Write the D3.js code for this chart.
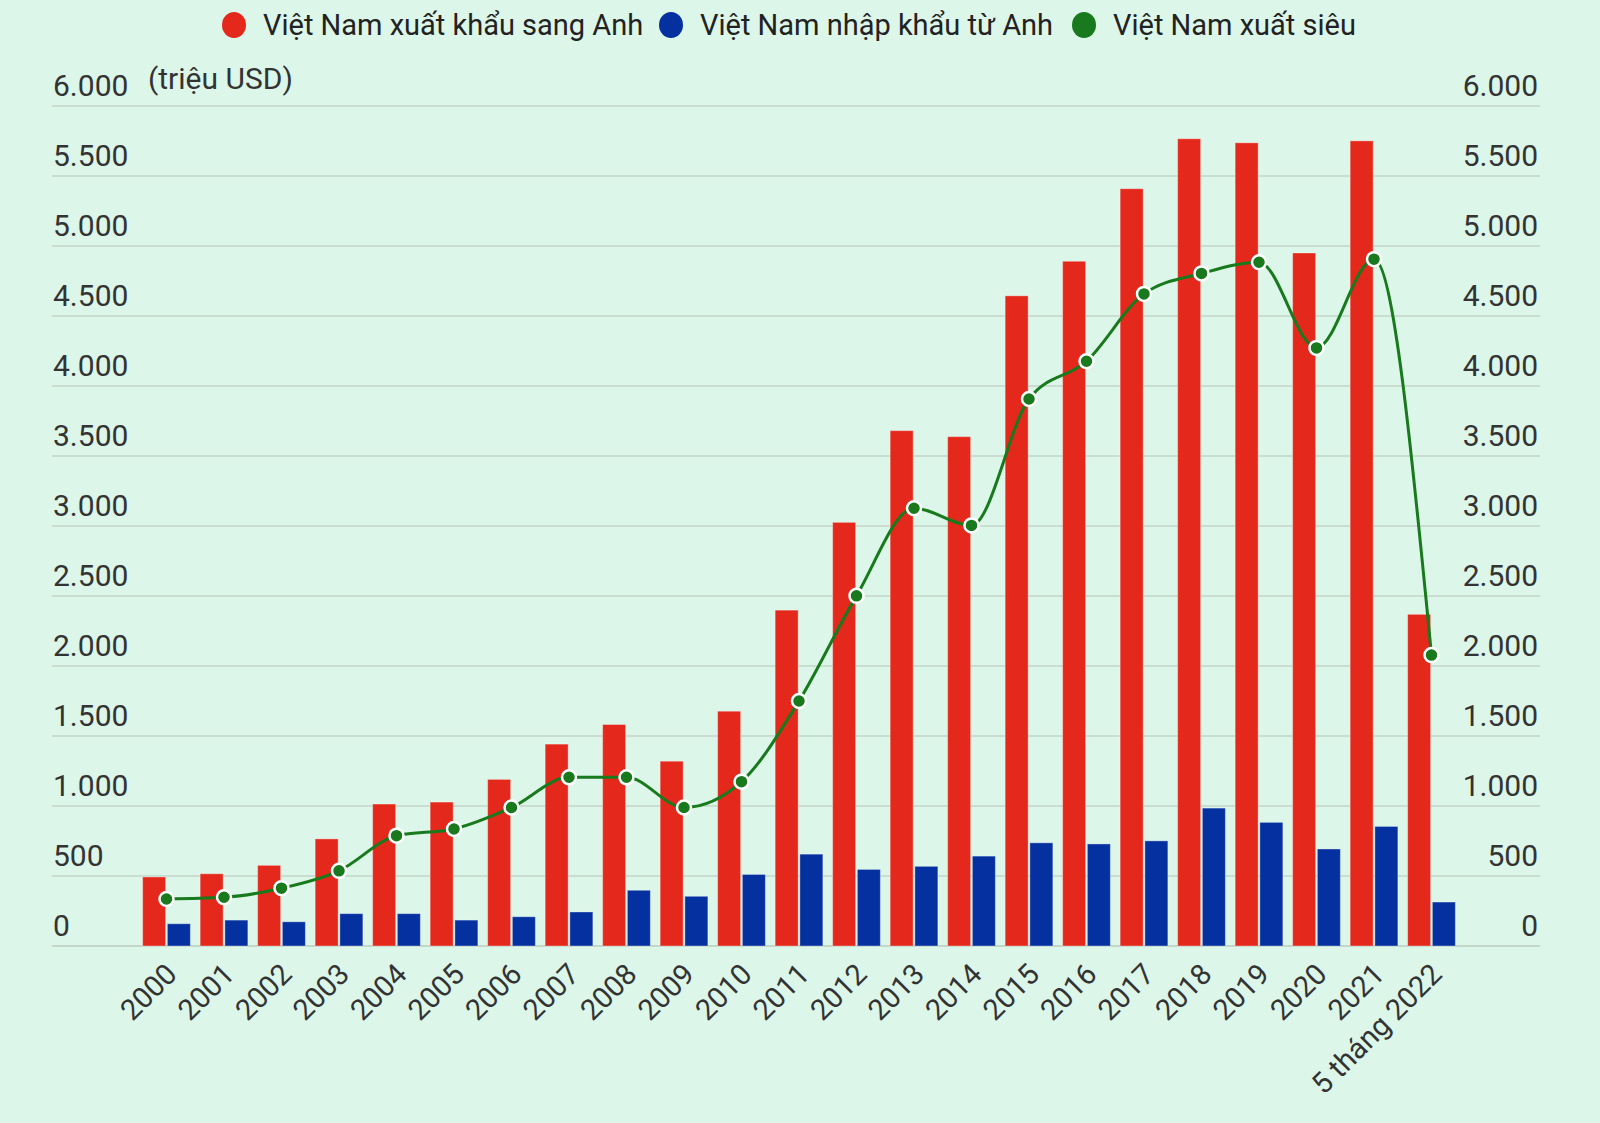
<!DOCTYPE html>
<html>
<head>
<meta charset="utf-8">
<script src="https://cdn.jsdelivr.net/npm/d3@7/dist/d3.min.js"></script>
<style>
  html, body { margin: 0; padding: 0; background: #dcf6e9; }
  svg { display: block; font-family: Roboto, "Noto Sans", sans-serif; }
</style>
</head>
<body>
<script>
const categories = ["2000","2001","2002","2003","2004","2005","2006","2007","2008","2009","2010","2011","2012","2013","2014","2015","2016","2017","2018","2019","2020","2021","5 tháng 2022"];
const exportsUK = [493, 516, 576, 765, 1014, 1028, 1190, 1442, 1582, 1320, 1677, 2399, 3026, 3681, 3638, 4644, 4891, 5409, 5766, 5737, 4950, 5751, 2369];
const importsUK = [159, 185, 173, 231, 231, 185, 209, 243, 398, 355, 511, 656, 547, 569, 642, 737, 729, 751, 985, 883, 693, 854, 314];
const surplus   = [336, 348, 413, 537, 788, 836, 989, 1205, 1205, 989, 1174, 1750, 2501, 3127, 3004, 3907, 4177, 4658, 4804, 4884, 4272, 4906, 2078];
const yTicks = [0, 500, 1000, 1500, 2000, 2500, 3000, 3500, 4000, 4500, 5000, 5500, 6000];
const seriesNames = ["Việt Nam xuất khẩu sang Anh", "Việt Nam nhập khẩu từ Anh", "Việt Nam xuất siêu"];
const unitLabel = "(triệu USD)";

const W = 1600, H = 1123;
const colors = ["#e4281b", "#0531a0", "#187a1c"];
const fmt = v => d3.format(",")(v).replace(/,/g, ".");

const svg = d3.select("body").append("svg").attr("width", W).attr("height", H);
svg.append("rect").attr("width", W).attr("height", H).attr("fill", "#dcf6e9");

const y = d3.scaleLinear().domain([0, 6000]).range([946, 106]);
const gridL = 52, gridR = 1540;

const x0 = d3.scaleBand().domain(categories).range([137.75, 137.75 + 23 * 57.5]).paddingInner(0.17).paddingOuter(0.085);
const x1 = d3.scaleBand().domain([0, 1]).range([0, x0.bandwidth()]).paddingInner(0.07);

// gridlines
svg.append("g").selectAll("line").data(yTicks).join("line")
  .attr("x1", gridL).attr("x2", gridR)
  .attr("y1", d => y(d)).attr("y2", d => y(d))
  .attr("stroke", d => d === 0 ? "#c2d6c9" : "#c9ddd0").attr("stroke-width", 2);

// left labels
svg.append("g").selectAll("text").data(yTicks).join("text")
  .attr("x", 53).attr("y", d => y(d) - 10)
  .attr("font-size", 30).attr("fill", "#333")
  .text(d => fmt(d));
// right labels
svg.append("g").selectAll("text").data(yTicks).join("text")
  .attr("x", 1538).attr("y", d => y(d) - 10)
  .attr("text-anchor", "end")
  .attr("font-size", 30).attr("fill", "#333")
  .text(d => fmt(d));

svg.append("text").attr("x", 148).attr("y", 89).attr("font-size", 30).attr("fill", "#333").text(unitLabel);

// bars
const groups = svg.append("g").selectAll("g").data(categories).join("g")
  .attr("transform", d => `translate(${x0(d)},0)`);
groups.append("rect")
  .attr("x", x1(0)).attr("width", x1.bandwidth())
  .attr("y", (d, i) => y(exportsUK[i])).attr("height", (d, i) => y(0) - y(exportsUK[i]))
  .attr("fill", colors[0]).attr("stroke", "rgba(255,255,255,0.35)").attr("stroke-width", 1);
groups.append("rect")
  .attr("x", x1(1)).attr("width", x1.bandwidth())
  .attr("y", (d, i) => y(importsUK[i])).attr("height", (d, i) => y(0) - y(importsUK[i]))
  .attr("fill", colors[1]).attr("stroke", "rgba(255,255,255,0.35)").attr("stroke-width", 1);

// line
const cx = d => x0(d) + x0.bandwidth() / 2;
const line = d3.line().x((d, i) => cx(categories[i])).y(d => y(d)).curve(d3.curveMonotoneX);
svg.append("path").datum(surplus).attr("d", line)
  .attr("fill", "none").attr("stroke", colors[2]).attr("stroke-width", 3);
svg.append("g").selectAll("circle").data(surplus).join("circle")
  .attr("cx", (d, i) => cx(categories[i])).attr("cy", d => y(d)).attr("r", 7)
  .attr("fill", colors[2]).attr("stroke", "#fff").attr("stroke-width", 2.5);

// x labels
svg.append("g").selectAll("text").data(categories).join("text")
  .attr("transform", d => `translate(${cx(d) + 12},${976}) rotate(-45)`)
  .attr("text-anchor", "end")
  .attr("font-size", 29).attr("fill", "#333")
  .text(d => d);

// legend
const legendX = [234, 671, 1084];
const lg = svg.append("g").selectAll("g").data(seriesNames).join("g")
  .attr("transform", (d, i) => `translate(${legendX[i]},25)`);
lg.append("ellipse").attr("rx", 12).attr("ry", 13).attr("fill", (d, i) => colors[i]);
lg.append("text").attr("x", 29).attr("y", 10).attr("font-size", 29).attr("fill", "#222").text(d => d);
</script>
</body>
</html>
